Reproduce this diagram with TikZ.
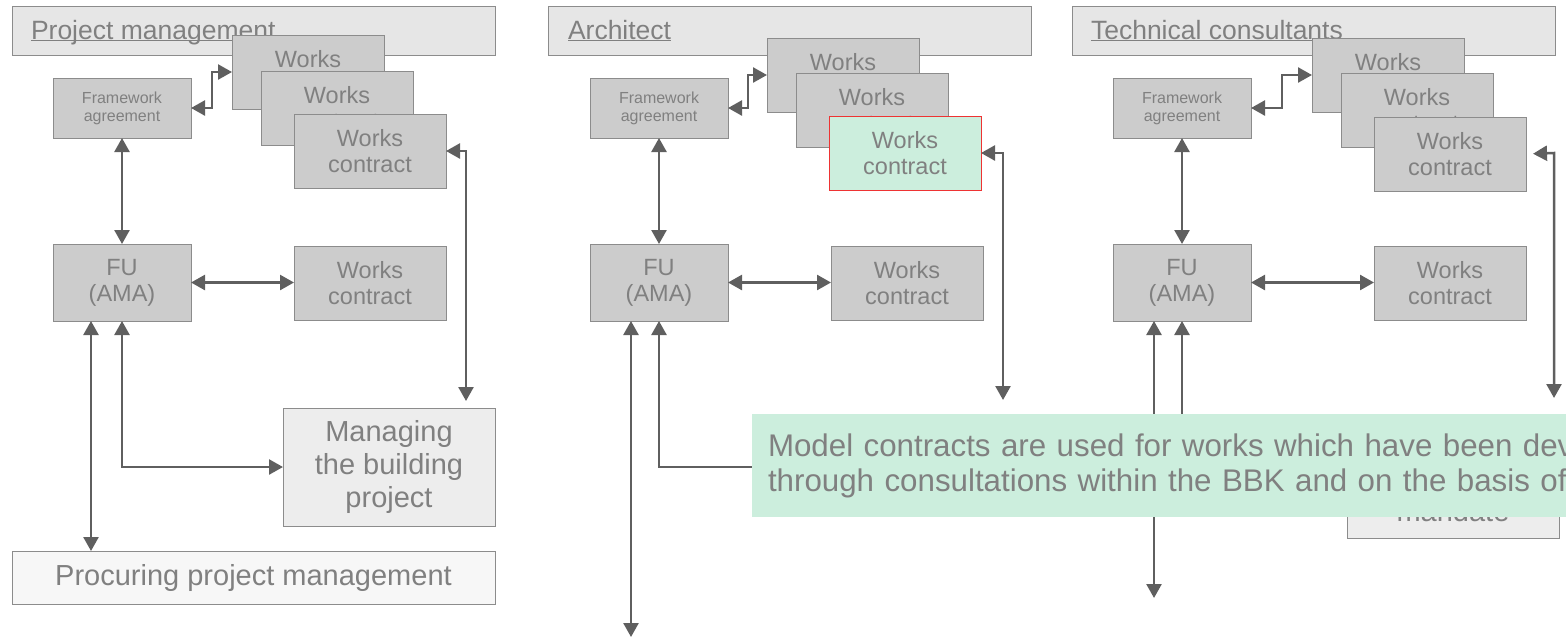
\documentclass[tikz,border=0pt]{standalone}
\usepackage{fontspec}
\setmainfont{Liberation Sans}
\usetikzlibrary{arrows.meta}

\definecolor{txtgray}{HTML}{808080}
\definecolor{linegray}{HTML}{8C8C8C}
\definecolor{boxgray}{HTML}{CCCCCC}
\definecolor{titlefill}{HTML}{E6E6E6}
\definecolor{mgfill}{HTML}{EDEDED}
\definecolor{procfill}{HTML}{F7F7F7}
\definecolor{notegreen}{HTML}{CCEEDD}
\definecolor{arrowgray}{HTML}{5F5F5F}
\definecolor{markred}{HTML}{EE3333}

\newcommand\ulin[1]{\setbox0\hbox{#1}\rlap{\rule[-2.4pt]{\wd0}{1.2pt}}\box0}

\begin{document}
\begin{tikzpicture}[x=1pt,y=-1pt,
   >={Triangle[length=14pt,width=15pt]},
   every node/.style={inner sep=0pt,outer sep=0pt,text=txtgray,align=center},
   box/.style={draw=linegray,line width=1pt,fill=boxgray,anchor=north west}]

\tikzstyle {titlebox} = [box, fill=titlefill, minimum width=483pt, minimum height=49pt];
\tikzstyle {titletext} = [anchor=base west, font=\fontsize{26.5}{30}\selectfont];
\tikzstyle {fwbox} = [box, minimum width=138pt, minimum height=60pt, font=\fontsize{16}{18}\selectfont];
\tikzstyle {wkbox} = [box, minimum width=152pt, minimum height=74pt, font=\fontsize{23.5}{26.5}\selectfont];
\tikzstyle {fubox} = [box, minimum width=138pt, minimum height=77pt, font=\fontsize{23.5}{26}\selectfont];
\tikzstyle {mgbox} = [box, fill=mgfill, minimum width=212pt, minimum height=118pt, font=\fontsize{29}{33}\selectfont];
\tikzstyle {procbox} = [box, fill=procfill, minimum width=483pt, minimum height=53pt, font=\fontsize{29}{33}\selectfont];
\tikzstyle {link} = [<->, line width=2.5pt, draw=arrowgray];

\useasboundingbox (0,0) rectangle (1566,641);
\clip (0,0) rectangle (1566,641);

% project management
\node[titlebox] (tA) at (12,6) {};
\node[titletext] (tAt) at (31,39) {\ulin{Project management}};
\node[fwbox] (fwA) at (53,78) {Framework\\agreement};
\node[wkbox] (wA1) at (232,35) {Works\\contract};
\node[wkbox] (wA2) at (261,71) {Works\\contract};
\node[wkbox] (wA3) at (294,114) {Works\\contract};
\node[fubox] (fuA) at (53,244) {FU\\(AMA)};
\node[wkbox] (wcA) at (294,246) {Works\\contract};
\node[mgbox] (mgA) at (283,408) {Managing\\the building\\project};
\node[procbox] (procA) at (12,551) {Procuring project management};

\coordinate (rA) at (466,151);
\coordinate (lA) at (91,321);

\draw [link] (fwA.east) -- ++(21,0) |- (wA1.west);
\draw [link] (fwA.south) -- (fuA.north);
\draw [link] (fuA.east) -- (fuA.east -| wcA.west);
\draw [link, shorten >=7pt] (wA3.east) -- (rA) -- (rA |- mgA.north);
\draw [link] (fuA.south) |- (mgA.west);
\draw [link] (lA) -- (lA |- procA.north);

% architect
\node[titlebox] (tB) at (548,6) {};
\node[titletext] (tBt) at (568,39) {\ulin{Architect}};
\node[fwbox] (fwB) at (590,78) {Framework\\agreement};
\node[wkbox] (wB1) at (767,38) {Works\\contract};
\node[wkbox] (wB2) at (796,73) {Works\\contract};
\node[wkbox, fill=notegreen, draw=markred] (wB3) at (829,116) {Works\\contract};
\node[fubox] (fuB) at (590,244) {FU\\(AMA)};
\node[wkbox] (wcB) at (831,246) {Works\\contract};

\coordinate (rB) at (1003,153);
\coordinate (eB) at (1003,400);
\coordinate (lB) at (631,321);
\coordinate (dB) at (631,637);
\coordinate (hB) at (820,467);

\draw [link] (fwB.east) -- ++(20,0) |- (wB1.west);
\draw [link] (fwB.south) -- (fuB.north);
\draw [link] (fuB.east) -- (fuB.east -| wcB.west);
\draw [link] (wB3.east) -- (rB) -- (eB);
\draw [link] (lB) -- (dB);
\draw [link] (fuB.south) |- (hB);

% technical consultants
\node[titlebox] (tC) at (1072,6) {};
\node[titletext] (tCt) at (1091,39) {\ulin{Technical consultants}};
\node[fwbox] (fwC) at (1113,78) {Framework\\agreement};
\node[wkbox] (wC1) at (1312,38) {Works\\contract};
\node[wkbox] (wC2) at (1341,73) {Works\\contract};
\node[wkbox] (wC3) at (1374,117) {Works\\contract};
\node[fubox] (fuC) at (1113,244) {FU\\(AMA)};
\node[wkbox] (wcC) at (1374,246) {Works\\contract};
\node[mgbox] (mgC) at (1347,420) {};
\node[anchor=base, font=\fontsize{29}{33}\selectfont] (mgCt) at (1453,521) {mandate};

\coordinate (rC) at (1554,153);
\coordinate (eC) at (1554,398);
\coordinate (lC) at (1154,321);
\coordinate (dC) at (1154,598);

\draw [link] (fwC.east) -- ++(31,0) |- (wC1.west);
\draw [link] (fwC.south) -- (fuC.north);
\draw [link] (fuC.east) -- (fuC.east -| wcC.west);
\draw [link, shorten <=7pt] (wC3.east) -- (rC) -- (eC);
\draw [link] (lC) -- (dC);
\draw [link] (fuC.south) |- (mgC.west);

% model contracts note
\node[anchor=north west, fill=notegreen, minimum height=103pt, text width=900pt,
   inner xsep=16pt, align=left, font=\fontsize{31.3}{35}\selectfont] (note) at (752,414)
   {Model contracts are used for works which have been dev\\through consultations within the BBK and on the basis of};

\end{tikzpicture}
\end{document}
